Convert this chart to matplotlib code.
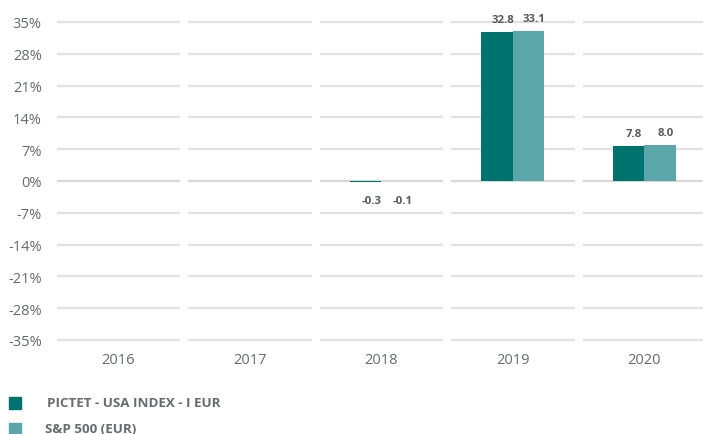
import matplotlib
matplotlib.use("Agg")
import matplotlib.pyplot as plt
from matplotlib.patches import Rectangle

plt.rcParams['font.family'] = ['Open Sans', 'DejaVu Sans']

years = ["2016", "2017", "2018", "2019", "2020"]
fund = [None, None, -0.3, 32.8, 7.8]
bench = [None, None, -0.1, 33.1, 8.0]
series_names = ["PICTET - USA INDEX - I EUR", "S&P 500 (EUR)"]
yticks = [35, 28, 21, 14, 7, 0, -7, -14, -21, -28, -35]

c_dark = "#00736f"
c_light = "#5ba6a8"
txt = "#666b6d"

W, H = 703, 435
fig = plt.figure(figsize=(W / 100, H / 100), dpi=100)
ax = fig.add_axes([52.75 / W, 1 - 341 / H, (W - 52.75) / W, (341 - 23) / H])
ax.set_ylim(-35, 35)
ax.set_xlim(-0.5, 4.447)
for s in ax.spines.values():
    s.set_visible(False)

gap = 4 / 131.5
for i in range(len(years)):
    for v in yticks:
        ax.hlines(v, i - 0.5 + gap, i + 0.5 - gap, color="#e2e2e2" if v != 0 else "#d9d9d9",
                  lw=1.6, clip_on=False, zorder=1)

bw = 0.24
for i, (a, b) in enumerate(zip(fund, bench)):
    if a is None:
        continue
    for val, off, col in ((a, -bw / 2, c_dark), (b, bw / 2, c_light)):
        ax.bar(i + off, val, width=bw, color=col, zorder=3)
        if val >= 0:
            ax.annotate(f"{val:.1f}", (i + off, val), xytext=(4, 5), textcoords="offset points",
                        ha="center", va="bottom", fontsize=8.2, fontweight="bold", color="#555a5c")
        else:
            ax.annotate(f"{val:.1f}", (i + off, 0), xytext=(4, -10), textcoords="offset points",
                        ha="center", va="top", fontsize=8.2, fontweight="bold", color="#555a5c")

ax.set_yticks(yticks)
ax.set_yticklabels([f"{v}%" for v in yticks])
ax.set_xticks(range(len(years)))
ax.set_xticklabels(years)
ax.tick_params(axis="both", length=0, labelsize=10.5, colors=txt)
ax.tick_params(axis="y", pad=8)
ax.tick_params(axis="x", pad=9)

# legend
for k, (name, col) in enumerate(zip(series_names, [c_dark, c_light])):
    yc = 404 + k * 26
    fig.patches.append(Rectangle((9 / W, 1 - (yc + 6) / H), 12 / W, 12 / H,
                                 transform=fig.transFigure, color=col))
    fig.text((47 - 2 * k) / W, 1 - yc / H, name, ha="left", va="center",
             fontsize=9.6, fontweight="bold", color=txt)

fig.savefig("out.png", dpi=100)
